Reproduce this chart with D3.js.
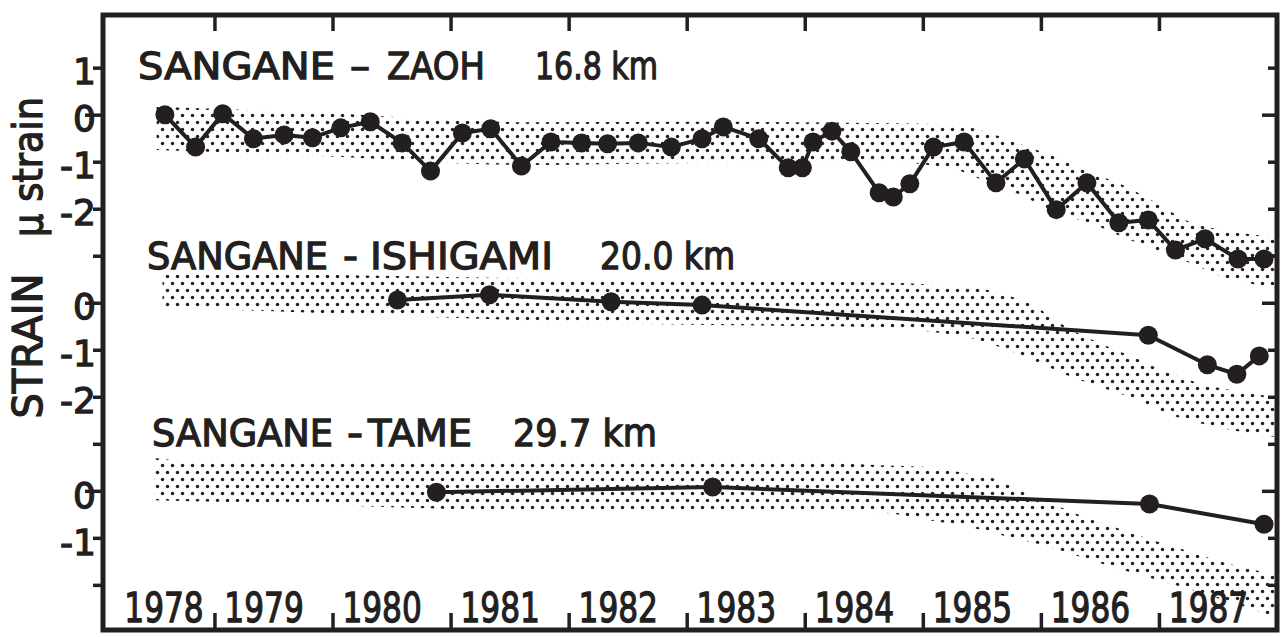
<!DOCTYPE html>
<html><head><meta charset="utf-8">
<script src="https://cdn.jsdelivr.net/npm/d3@7"></script>
<style>
html,body{margin:0;padding:0;background:#fff;}
svg{display:block;}
text{font-family:"DejaVu Sans",sans-serif;fill:#231f20;stroke:#231f20;stroke-width:1.3px;}
</style></head><body>
<svg id="chart" width="1284" height="637"></svg>
<script>
// ---------------- data ----------------
const zaohYears = [1978.58,1978.84,1979.07,1979.33,1979.59,1979.83,1980.07,1980.32,1980.59,1980.83,1981.10,1981.34,1981.60,1981.85,1982.11,1982.33,1982.59,1982.87,1983.13,1983.31,1983.61,1983.86,1983.98,1984.07,1984.23,1984.39,1984.63,1984.75,1984.89,1985.09,1985.35,1985.62,1985.86,1986.13,1986.39,1986.66,1986.91,1987.14,1987.39,1987.67,1987.89];
const zaohStrain = [0.0,-0.69,0.02,-0.51,-0.43,-0.49,-0.28,-0.15,-0.60,-1.20,-0.39,-0.30,-1.09,-0.58,-0.60,-0.62,-0.60,-0.69,-0.51,-0.26,-0.51,-1.13,-1.13,-0.58,-0.35,-0.79,-1.66,-1.75,-1.47,-0.69,-0.58,-1.45,-0.94,-2.02,-1.45,-2.30,-2.24,-2.88,-2.64,-3.07,-3.07];

const ishiYears = [1980.55,1981.33,1982.36,1983.13,1986.91,1987.41,1987.66,1987.85];
const ishiStrain = [0.06,0.17,0.02,-0.05,-0.69,-1.32,-1.52,-1.13];

const tameYears = [1980.88,1983.22,1986.92,1987.89];
const tameStrain = [-0.03,0.08,-0.28,-0.71];

// shaded trend bands (upper / lower strain limits)
const zaohBandYears = [1978.51,1979.72,1981.67,1983.11,1984.72,1985.29,1985.56,1985.84,1986.13,1986.41,1986.69,1986.98,1987.26,1987.54,1987.83,1988.0];
const zaohBandUpper = [0.17,0.06,-0.16,-0.15,-0.18,-0.22,-0.39,-0.64,-0.90,-1.22,-1.49,-1.88,-2.28,-2.45,-2.56,-2.60];
const zaohBandLower = [-0.75,-0.86,-1.07,-1.03,-1.01,-1.18,-1.45,-1.72,-2.09,-2.30,-2.60,-2.88,-3.15,-3.45,-3.62,-3.73];

const ishiBandYears = [1978.56,1981.00,1982.69,1984.80,1985.08,1985.37,1985.65,1985.93,1986.22,1986.50,1986.78,1987.06,1987.34,1987.62,1988.0];
const ishiBandUpper = [0.65,0.55,0.48,0.42,0.38,0.34,0.21,-0.05,-0.52,-0.86,-1.15,-1.47,-1.71,-1.86,-2.01];
const ishiBandLower = [-0.09,-0.32,-0.45,-0.54,-0.62,-0.73,-0.94,-1.22,-1.54,-1.79,-2.03,-2.35,-2.56,-2.71,-2.86];

const tameBandYears = [1978.49,1979.11,1982.45,1984.00,1984.69,1985.04,1985.39,1985.57,1985.91,1986.08,1986.44,1986.61,1986.95,1987.13,1987.48,1988.0];
const tameBandUpper = [0.70,0.59,0.59,0.61,0.54,0.505,0.36,0.29,-0.09,-0.26,-0.62,-0.76,-1.05,-1.19,-1.47,-1.79];
const tameBandLower = [-0.20,-0.24,-0.45,-0.41,-0.47,-0.62,-0.77,-0.88,-1.09,-1.20,-1.49,-1.62,-1.87,-2.00,-2.27,-2.69];

// panel stacking offsets (strain units)
const panelOffsets = [0,-4,-8];

// ticks
const yearTicks = [1979,1980,1981,1982,1983,1984,1985,1986,1987];
const yearLabels = ["1978","1979","1980","1981","1982","1983","1984","1985","1986","1987"];
const strainTicks = [1,0,-1,-2,-3,-4,-5,-6,-7,-8,-9,-10];
const strainTickLabels = ["1","0","-1","-2","","0","-1","-2","","0","-1",""];
const zeroTicks = [0,-4,-8];

// ---------------- drawing ----------------
const ink = "#231f20";
const svg = d3.select("#chart");
const frame = {left:103, top:15, right:1277, bottom:630};
const x = d3.scaleLinear().domain([1978.056,1988]).range([frame.left,frame.right]);
const y = d3.scaleLinear().domain([2.12,-10.96]).range([frame.top,frame.bottom]);

svg.append("rect").attr("width",1284).attr("height",637).attr("fill","#fff");

const defs = svg.append("defs");
const pat = defs.append("pattern").attr("id","stipple").attr("patternUnits","userSpaceOnUse")
  .attr("width",10).attr("height",14);
pat.append("circle").attr("cx",2.5).attr("cy",3.5).attr("r",1.75).attr("fill",ink);
pat.append("circle").attr("cx",7.5).attr("cy",10.5).attr("r",1.75).attr("fill",ink);
defs.append("clipPath").attr("id","plotclip").append("rect")
  .attr("x",frame.left).attr("y",frame.top)
  .attr("width",frame.right-frame.left).attr("height",frame.bottom-frame.top);

const plot = svg.append("g").attr("clip-path","url(#plotclip)");

const bands = [
  {yrs:zaohBandYears, up:zaohBandUpper, lo:zaohBandLower, off:panelOffsets[0]},
  {yrs:ishiBandYears, up:ishiBandUpper, lo:ishiBandLower, off:panelOffsets[1]},
  {yrs:tameBandYears, up:tameBandUpper, lo:tameBandLower, off:panelOffsets[2]}
];
bands.forEach(b=>{
  const pts = b.yrs.map((t,i)=>({t, u:b.up[i]+b.off, l:b.lo[i]+b.off}));
  const area = d3.area().curve(d3.curveMonotoneX)
    .x(d=>x(d.t)).y0(d=>y(d.l)).y1(d=>y(d.u));
  plot.append("path").attr("d",area(pts)).attr("fill","url(#stipple)");
});

const series = [
  {yrs:zaohYears, vals:zaohStrain, off:panelOffsets[0]},
  {yrs:ishiYears, vals:ishiStrain, off:panelOffsets[1]},
  {yrs:tameYears, vals:tameStrain, off:panelOffsets[2]}
];
series.forEach(s=>{
  const pts = s.yrs.map((t,i)=>({t, v:s.vals[i]+s.off}));
  const line = d3.line().x(d=>x(d.t)).y(d=>y(d.v));
  plot.append("path").attr("d",line(pts)).attr("fill","none")
    .attr("stroke",ink).attr("stroke-width",4).attr("stroke-linejoin","round");
  plot.selectAll(null).data(pts).enter().append("circle")
    .attr("cx",d=>x(d.t)).attr("cy",d=>y(d.v)).attr("r",9.5).attr("fill",ink);
});

// axes
function styleAxis(g){
  g.select(".domain").remove();
  g.selectAll(".tick line").attr("stroke",ink).attr("stroke-width",3.5);
}
const gLeft = svg.append("g").attr("transform",`translate(${frame.left},0)`)
  .call(d3.axisLeft(y).tickValues(strainTicks).tickSize(-10).tickPadding(7)
    .tickFormat((d,i)=>strainTickLabels[i]));
styleAxis(gLeft);
gLeft.selectAll(".tick line").attr("x2",d=>zeroTicks.includes(d)?-18:-10);
gLeft.selectAll(".tick text").attr("font-size",36).attr("dy","0.45em")
  .attr("fill",ink).style("font-family","'DejaVu Sans',sans-serif");

const gRight = svg.append("g").attr("transform",`translate(${frame.right},0)`)
  .call(d3.axisRight(y).tickValues(strainTicks).tickSize(-9).tickFormat(""));
styleAxis(gRight);
gRight.selectAll(".tick line").attr("x2",d=>zeroTicks.includes(d)?-15:-9);

const gTop = svg.append("g").attr("transform",`translate(0,${frame.top})`)
  .call(d3.axisTop(x).tickValues(yearTicks).tickSize(-16).tickFormat(""));
styleAxis(gTop);
const gBot = svg.append("g").attr("transform",`translate(0,${frame.bottom})`)
  .call(d3.axisBottom(x).tickValues(yearTicks).tickSize(-17).tickFormat(""));
styleAxis(gBot);

// year labels
svg.append("g").selectAll("text").data(yearLabels).enter().append("text")
  .attr("text-anchor","middle").attr("font-size",40)
  .attr("transform",d=>`translate(${Math.max(x(+d+0.42),164)},622) scale(0.78,1)`)
  .text(d=>d);

// frame
svg.append("rect").attr("x",frame.left).attr("y",frame.top)
  .attr("width",frame.right-frame.left).attr("height",frame.bottom-frame.top)
  .attr("fill","none").attr("stroke",ink).attr("stroke-width",5);

// titles
const titles = [
  {base:79,  parts:[["SANGANE",138,197],["\u2013",350,20],["ZAOH",387,98],["16.8 km",535,123]]},
  {base:269, parts:[["SANGANE",147,181],["-",343,15],["ISHIGAMI",370,183],["20.0 km",600,135]]},
  {base:446, parts:[["SANGANE",152,181],["-",347,16],["TAME",368,104],["29.7 km",513,144]]}
];
titles.forEach(t=>{
  t.parts.forEach(p=>{
    svg.append("text").attr("x",p[1]).attr("y",t.base).attr("font-size",38)
      .attr("textLength",p[2]).attr("lengthAdjust","spacingAndGlyphs").text(p[0]);
  });
});

// y axis title
svg.append("text").attr("transform","translate(42,346) rotate(-90)")
  .attr("text-anchor","middle").attr("font-size",40).text("STRAIN");
svg.append("text").attr("transform","translate(42,167) rotate(-90)")
  .attr("text-anchor","middle").attr("font-size",40).attr("textLength",140)
  .attr("lengthAdjust","spacingAndGlyphs").text("\u03bc strain");
</script>
</body></html>
